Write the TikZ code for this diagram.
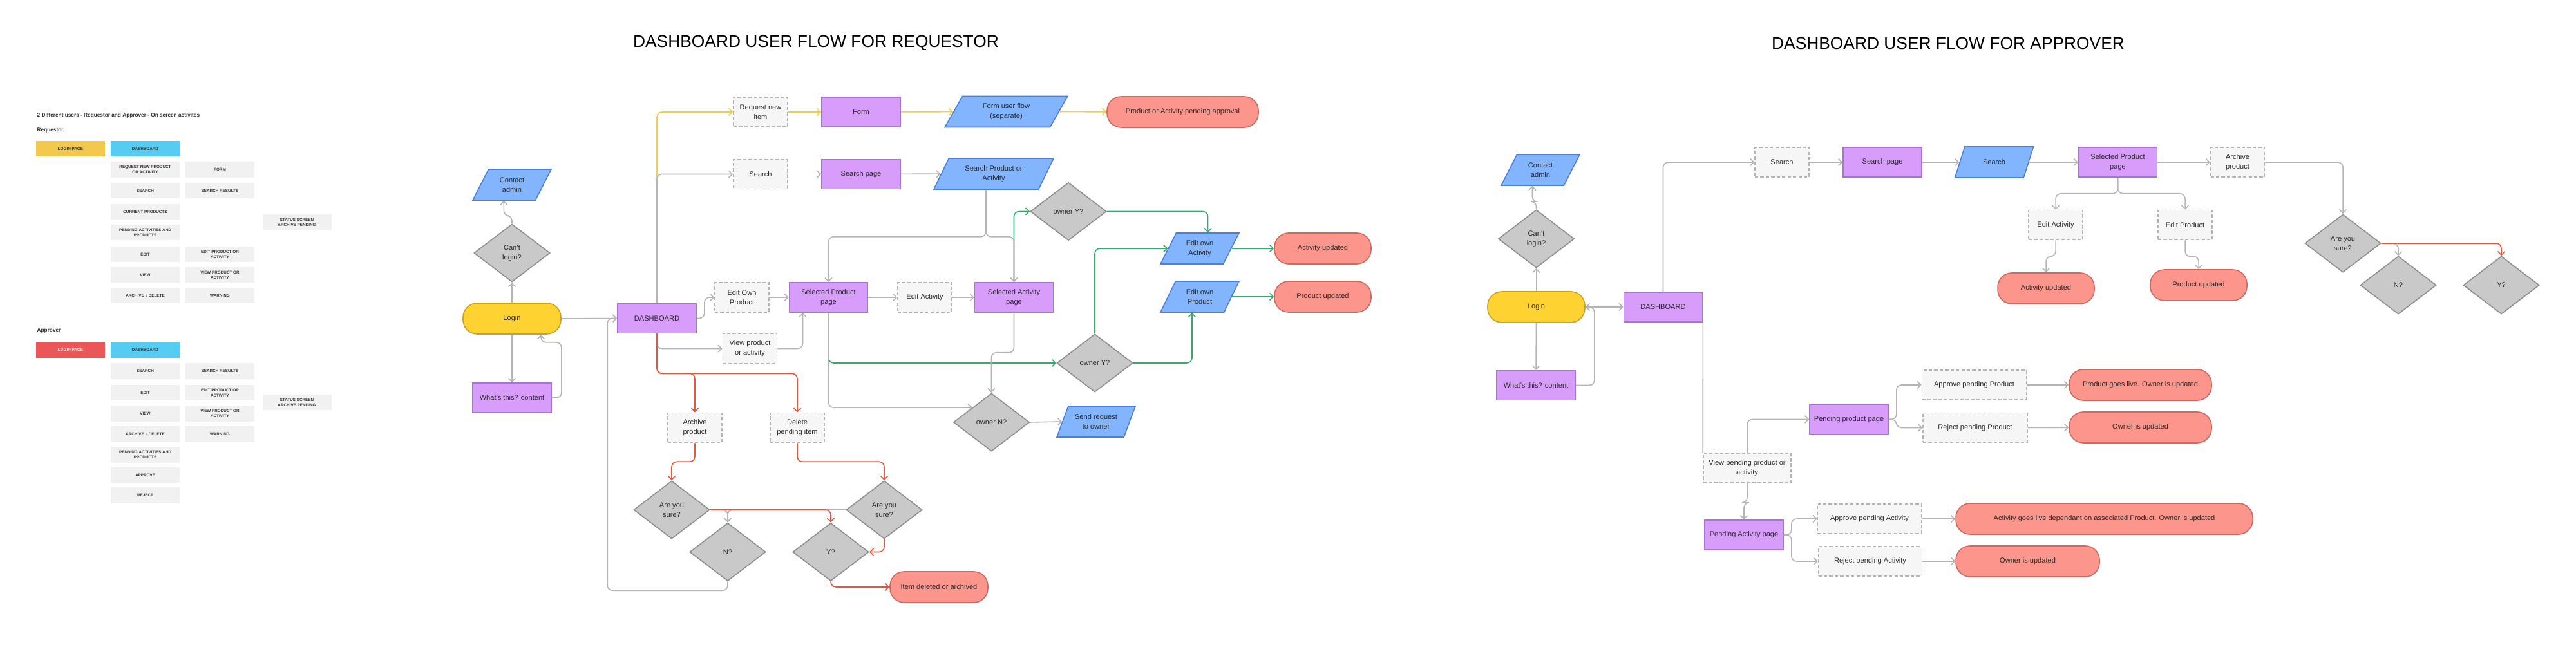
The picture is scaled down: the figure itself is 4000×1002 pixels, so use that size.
\documentclass[tikz,border=0pt]{standalone}
\usepackage{fontspec}
\setmainfont{Liberation Sans}
\usepackage{tikz}
\usetikzlibrary{arrows.meta,positioning,calc,shapes.geometric}
\usepackage{xcolor}
\definecolor{ink}{HTML}{2B2B2B}
\definecolor{pagefill}{HTML}{D89CFA}
\definecolor{pageline}{HTML}{A874CF}
\definecolor{actfill}{HTML}{F6F6F6}
\definecolor{actline}{HTML}{B5B5B5}
\definecolor{iofill}{HTML}{83B5FF}
\definecolor{ioline}{HTML}{4D7FD6}
\definecolor{askfill}{HTML}{C9C9C9}
\definecolor{askline}{HTML}{8E8E8E}
\definecolor{donefill}{HTML}{FC958C}
\definecolor{doneline}{HTML}{CC6A62}
\definecolor{startfill}{HTML}{FDD231}
\definecolor{startline}{HTML}{C9A22B}
\definecolor{flowgrey}{HTML}{B5B5B5}
\definecolor{flowyel}{HTML}{F4CF3A}
\definecolor{flowgrn}{HTML}{2FAE6E}
\definecolor{flowred}{HTML}{E8553C}
\definecolor{keyfill}{HTML}{F1F1F1}
\definecolor{keyink}{HTML}{333333}
\definecolor{keyyel}{HTML}{F2C94C}
\definecolor{keyblue}{HTML}{56CCF2}
\definecolor{keyred}{HTML}{EB5757}
\newcommand{\fcnode}{\fontsize{3.15}{4.2}\selectfont}
\newcommand{\fckey}{\fontsize{1.8}{2.3}\selectfont\bfseries}
\newcommand{\fchead}{\fontsize{2.35}{2.8}\selectfont\bfseries}
\newcommand{\fctitle}{\fontsize{7.5}{9}\selectfont}

\begin{document}
\begin{tikzpicture}[
  x=0.1mm, y=-0.1mm,
  shapebase/.style={font=\fcnode,text=ink,align=center,inner sep=0.6pt,line width=0.45pt},
  pagebox/.style={shapebase,rectangle,fill=pagefill,draw=pageline,minimum width=12.2mm,minimum height=4.6mm},
  actbox/.style={shapebase,rectangle,fill=actfill,draw=actline,dash pattern=on 1.5pt off 0.9pt,minimum width=8.4mm,minimum height=4.6mm},
  iobox/.style={shapebase,trapezium,trapezium left angle=62,trapezium right angle=118,trapezium stretches=true,fill=iofill,draw=ioline,minimum width=12.2mm,minimum height=4.8mm},
  askbox/.style={shapebase,diamond,fill=askfill,draw=askline,minimum width=11.8mm,minimum height=9mm},
  donebox/.style={shapebase,rectangle,rounded corners=2.2mm,fill=donefill,draw=doneline,minimum width=15mm,minimum height=4.8mm},
  startbox/.style={shapebase,rectangle,rounded corners=2.2mm,fill=startfill,draw=startline,minimum width=15.2mm,minimum height=4.8mm},
  flow/.style={draw=flowgrey,line width=0.45pt,rounded corners=0.8mm,-{Straight Barb[length=0.55mm,width=1.1mm]}},
  flowy/.style={flow,draw=flowyel},
  flowg/.style={flow,draw=flowgrn},
  flowr/.style={flow,draw=flowred},
  link/.style={draw=flowgrey,line width=0.45pt},
  keybox/.style={rectangle,fill=keyfill,text=keyink,font=\fckey,align=center,inner sep=0pt,minimum width=10.7mm,minimum height=2.45mm},
  keyhead/.style={anchor=base west,inner sep=0pt,text=keyink,font=\fchead},
  heading/.style={font=\fctitle,text=black},
]
  \fill[white] (0,0) rectangle (4000,1002);
  \useasboundingbox (0,0) rectangle (4000,1002);

  % ---------------- legend ----------------
  \node[keyhead] (khead) at (57,182) {2 Different users - Requestor and Approver - On screen activites};
  \node[keyhead] (kreq) at (57,205) {Requestor};
  \node[keybox,fill=keyyel]  (kloginr) at (109.5,231) {LOGIN PAGE};
  \node[keybox,fill=keyblue] (kdashr)  at (225.5,231) {DASHBOARD};
  \node[keybox] (kreqnew)  at (225.5,263.5) {REQUEST NEW PRODUCT\\OR ACTIVITY};
  \node[keybox] (kform)    at (341.5,263.5) {FORM};
  \node[keybox] (ksearchr) at (225.5,296) {SEARCH};
  \node[keybox] (kresr)    at (341.5,296) {SEARCH RESULTS};
  \node[keybox] (kcurrent) at (225.5,329) {CURRENT PRODUCTS};
  \node[keybox] (kpendr)   at (225.5,361) {PENDING ACTIVITIES AND\\PRODUCTS};
  \node[keybox] (keditr)   at (225.5,395) {EDIT};
  \node[keybox] (keditpr)  at (341.5,395) {EDIT PRODUCT OR\\ACTIVITY};
  \node[keybox] (kviewr)   at (225.5,427) {VIEW};
  \node[keybox] (kviewpr)  at (341.5,427) {VIEW PRODUCT OR\\ACTIVITY};
  \node[keybox] (karchr)   at (225.5,459) {ARCHIVE \ / DELETE};
  \node[keybox] (kwarnr)   at (341.5,459) {WARNING};
  \node[keybox] (kstatr)   at (461,345) {STATUS SCREEN\\ARCHIVE PENDING};

  \node[keyhead] (kapp) at (57,516) {Approver};
  \node[keybox,fill=keyred,text=white!88!keyred] (klogina) at (109.5,543.5) {LOGIN PAGE};
  \node[keybox,fill=keyblue] (kdasha)  at (225.5,543.5) {DASHBOARD};
  \node[keybox] (ksearcha) at (225.5,576.5) {SEARCH};
  \node[keybox] (kresa)    at (341.5,576.5) {SEARCH RESULTS};
  \node[keybox] (kedita)   at (225.5,610) {EDIT};
  \node[keybox] (keditpa)  at (341.5,610) {EDIT PRODUCT OR\\ACTIVITY};
  \node[keybox] (kviewa)   at (225.5,642.5) {VIEW};
  \node[keybox] (kviewpa)  at (341.5,642.5) {VIEW PRODUCT OR\\ACTIVITY};
  \node[keybox] (karcha)   at (225.5,674.5) {ARCHIVE \ / DELETE};
  \node[keybox] (kwarna)   at (341.5,674.5) {WARNING};
  \node[keybox] (kpenda)   at (225.5,706.5) {PENDING ACTIVITIES AND\\PRODUCTS};
  \node[keybox] (kapprove) at (225.5,738) {APPROVE};
  \node[keybox] (kreject)  at (225.5,769.5) {REJECT};
  \node[keybox] (kstata)   at (461,625) {STATUS SCREEN\\ARCHIVE PENDING};

  % ---------------- requestor ----------------
  \node[heading] (rtitle) at (1267,67) {DASHBOARD USER FLOW FOR REQUESTOR};

  \node[startbox] (rlogin) at (795,495) {Login};
  \node[askbox] (rcant) at (795,393) {Can’t\\login?};
  \node[iobox] (rcontact) at (795,287) {Contact\\admin};
  \node[pagebox] (rwhat) at (795,618) {What’s this? content};
  \node[pagebox] (rdash) at (1020,494.5) {DASHBOARD};

  \node[actbox] (rreq) at (1181,174) {Request new\\item};
  \node[pagebox] (rform) at (1337,174) {Form};
  \node[iobox,minimum width=19.1mm] (rformflow) at (1562.5,173.5) {Form user flow\\(separate)};
  \node[donebox,minimum width=23.5mm] (rpending) at (1836.5,174) {Product or Activity pending approval};

  \node[actbox] (rsearch) at (1181,270.5) {Search};
  \node[pagebox] (rsearchpg) at (1337,270.5) {Search page};
  \node[iobox,minimum width=18.6mm] (rfind) at (1543,270) {Search Product or\\Activity};

  \node[actbox] (reditown) at (1152,462) {Edit Own\\Product};
  \node[pagebox] (rselprod) at (1286.5,462) {Selected Product\\page};
  \node[actbox] (rview) at (1164.5,541.5) {View product\\or activity};
  \node[actbox] (reditact) at (1436,462) {Edit Activity};
  \node[pagebox] (rselact) at (1574.5,462) {Selected Activity\\page};

  \node[askbox] (rowny1) at (1659,328.5) {owner Y?};
  \node[askbox] (rowny2) at (1700,564) {owner Y?};
  \node[askbox] (rownn) at (1539.5,656) {owner N?};
  \node[iobox] (rsend) at (1702,655) {Send request\\to owner};
  \node[iobox] (reditacto) at (1863,386) {Edit own\\Activity};
  \node[iobox] (reditprodo) at (1863,461) {Edit own\\Product};
  \node[donebox] (ractupd) at (2054,386) {Activity updated};
  \node[donebox] (rprodupd) at (2054,461) {Product updated};

  \node[actbox] (rarchive) at (1079,664.5) {Archive\\product};
  \node[actbox] (rdelete) at (1238,664.5) {Delete\\pending item};
  \node[askbox] (rsureA) at (1043,792) {Are you\\sure?};
  \node[askbox] (rsureB) at (1373,792) {Are you\\sure?};
  \node[askbox] (rno) at (1130,857.5) {N?};
  \node[askbox] (ryes) at (1290,857.5) {Y?};
  \node[donebox,minimum width=15.2mm] (rgone) at (1458,912) {Item deleted or archived};

  % login and help
  \draw[flow] (rlogin.east) -- (rdash.west);
  \draw[flow] (rlogin.north) -- (rcant.south);
  \draw[flow] (rcant.north) -- ++(0,-12) -| (rcontact.bottom side);
  \draw[flow] (rlogin.south) -- (rwhat.north);
  \draw[flow] (rwhat.east) -| ($(rlogin.south east)+(0,12)$) -| ($(rlogin.south)+(45,0)$);
  % new item and search
  \draw[flowy] (rdash.north) |- (rreq.west);
  \draw[flowy] (rreq) -- (rform);
  \draw[flowy] (rform) -- (rformflow);
  \draw[flowy] (rformflow) -- (rpending);
  \draw[flow] (rdash.north) |- (rsearch.west);
  \draw[flow] (rsearch) -- (rsearchpg);
  \draw[flow] (rsearchpg) -- (rfind);
  % owner checks
  \draw[flowg] (rselact.north) |- (rowny1.west);
  \draw[flowg] (rselprod.south) |- (rowny2.west);
  \draw[flow] (rfind.bottom side) -- ++(0,73) -| (rselprod.north);
  \draw[flow] (rfind.bottom side) -- ++(0,73) -| (rselact.north);
  \draw[flow] (rdash.east) -- ++(12,0) |- (reditown.west);
  \draw[flow] (reditown) -- (rselprod);
  \draw[flow] (rview.east) -| ($(rselprod.south)+(-40,0)$);
  \draw[flow] (rselprod) -- (reditact);
  \draw[flow] (reditact) -- (rselact);
  \draw[flow] (rselprod.south) |- (rownn.north west);
  \draw[flow] (rselact.south) -- ++(0,62) -| (rownn.north);
  \draw[flow] (rownn.east) -- (rsend.west);
  \draw[flowg] (rowny1.east) -| (reditacto.top side);
  \draw[flowg] (rowny2.north) |- (reditacto.left side);
  \draw[flowg] (rowny2.east) -| (reditprodo.bottom side);
  \draw[flowg] (reditacto.right side) -- (ractupd.west);
  \draw[flowg] (reditprodo.right side) -- (rprodupd.west);
  % archive and delete
  \draw[flow] (rdash.south) |- (rview.west);
  \draw[flowr] (rdash.south) -- ++(0,62) -| (rarchive.north);
  \draw[flowr] (rdash.south) -- ++(0,62) -| (rdelete.north);
  \draw[flowr] (rarchive.south) -- ++(0,29) -| (rsureA.north);
  \draw[flowr] (rdelete.south) -- ++(0,29) -| (rsureB.north);
  \draw[flow] (rsureA.east) -| (rno.north);
  \draw[flow] (rsureB.west) -| (rno.north);
  \draw[flowr] (rsureA.east) -| (ryes.north);
  \draw[flowr] (rsureB.south) |- (ryes.east);
  \draw[flowr] (ryes.south) |- (rgone.west);
  \draw[flow] (rno.south) -- ++(0,14) -| ($(rdash.west)+(-15,0)$) -- (rdash.west);

  % ---------------- approver ----------------
  \node[heading] (atitle) at (3025,67) {DASHBOARD USER FLOW FOR APPROVER};

  \node[startbox,minimum width=15.1mm] (alogin) at (2385.5,477) {Login};
  \node[askbox] (acant) at (2385.5,371) {Can’t\\login?};
  \node[iobox] (acontact) at (2392,264) {Contact\\admin};
  \node[pagebox] (awhat) at (2385,598.5) {What’s this? content};
  \node[pagebox] (adash) at (2582.5,477) {DASHBOARD};

  \node[actbox] (asearch) at (2767,252) {Search};
  \node[pagebox] (asearchpg) at (2923,252) {Search page};
  \node[iobox] (afind) at (3096.5,252) {Search};
  \node[pagebox] (aselprod) at (3288.5,252) {Selected Product\\page};
  \node[actbox] (aarchive) at (3474.5,252) {Archive\\product};
  \node[askbox] (asure) at (3638,378) {Are you\\sure?};
  \node[askbox] (ano) at (3724,443) {N?};
  \node[askbox] (ayes) at (3884,443) {Y?};
  \node[actbox] (aeditact) at (3192,349.5) {Edit Activity};
  \node[actbox] (aeditprod) at (3393,349.5) {Edit Product};
  \node[donebox] (aactupd) at (3177,448) {Activity updated};
  \node[donebox] (aprodupd) at (3414,443) {Product updated};

  \node[actbox,minimum width=13.6mm] (aview) at (2713,727) {View pending product or\\activity};
  \node[pagebox] (apendprod) at (2871,651.5) {Pending product page};
  \node[actbox,minimum width=16.2mm] (aappprod) at (3065.5,598) {Approve pending Product};
  \node[actbox,minimum width=16.2mm] (arejprod) at (3067,664.5) {Reject pending Product};
  \node[donebox,minimum width=22.1mm] (alive) at (3323.5,598) {Product goes live. Owner is updated};
  \node[donebox,minimum width=22.1mm] (aowner1) at (3323.5,664) {Owner is updated};
  \node[pagebox] (apendact) at (2708,831) {Pending Activity page};
  \node[actbox,minimum width=16.1mm] (aappact) at (2903,806) {Approve pending Activity};
  \node[actbox,minimum width=16.1mm] (arejact) at (2904,872) {Reject pending Activity};
  \node[donebox,minimum width=46.1mm] (aactlive) at (3267.5,806) {Activity goes live dependant on associated Product. Owner is updated};
  \node[donebox,minimum width=22.3mm] (aowner2) at (3148.5,872) {Owner is updated};

  % login and help
  \draw[flow] (alogin.east) -- (adash.west);
  \draw[flow] (alogin.north) -- (acant.south);
  \draw[flow] (acant.north) -- ++(0,-12) -| (acontact.bottom side);
  \draw[flow] (alogin.south) -- (awhat.north);
  \draw[flow] (awhat.east) -| ($(alogin.east)+(14,0)$) -- (alogin.east);
  % search and edit
  \draw[flow] (adash.north) |- (asearch.west);
  \draw[flow] (asearch) -- (asearchpg);
  \draw[flow] (asearchpg) -- (afind);
  \draw[flow] (afind) -- (aselprod);
  \draw[flow] (aselprod) -- (aarchive);
  \draw[flow] (aarchive.east) -| (asure.north);
  \draw[flow] (asure.east) -| (ano.north);
  \draw[flowr] (asure.east) -| (ayes.north);
  \draw[flow] (aselprod.south) -- ++(0,25) -| (aeditact.north);
  \draw[flow] (aselprod.south) -- ++(0,25) -| (aeditprod.north);
  \draw[flow] (aeditact.south) -- ++(0,25) -| (aactupd.north);
  \draw[flow] (aeditprod.south) -- ++(0,25) -| (aprodupd.north);
  % pending items
  \draw[link] (adash.south east) -- (aview.north west);
  \draw[flow] (aview.north) |- (apendprod.west);
  \draw[flow] (aview.south) -- ++(0,30) -| (apendact.north);
  \draw[flow] (apendprod.east) -- ++(12,0) |- (aappprod.west);
  \draw[flow] (apendprod.east) -- ++(12,0) |- (arejprod.west);
  \draw[flow] (aappprod) -- (alive);
  \draw[flow] (arejprod) -- (aowner1);
  \draw[flow] (apendact.east) -- ++(12,0) |- (aappact.west);
  \draw[flow] (apendact.east) -- ++(12,0) |- (arejact.west);
  \draw[flow] (aappact) -- (aactlive);
  \draw[flow] (arejact) -- (aowner2);
\end{tikzpicture}
\end{document}
